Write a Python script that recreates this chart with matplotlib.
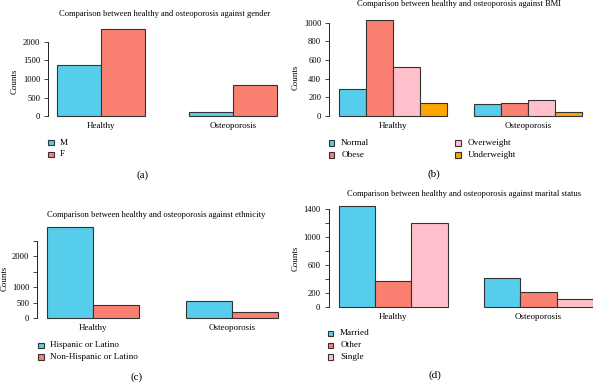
import matplotlib
matplotlib.use("Agg")
import matplotlib.pyplot as plt
from matplotlib.patches import Rectangle
import numpy as np

plt.rcParams['font.family'] = ['Liberation Serif', 'DejaVu Serif']

W, H = 593, 382
groups = ["Healthy", "Osteoporosis"]

gender_labels = ["M", "F"]
gender_vals = [[1378, 2351], [100, 838]]

bmi_labels = ["Normal", "Obese", "Overweight", "Underweight"]
bmi_vals = [[289, 1032, 528, 139], [132, 143, 168, 43]]

eth_labels = ["Hispanic or Latino", "Non-Hispanic or Latino"]
eth_vals = [[2950, 411], [561, 185]]

mar_labels = ["Married", "Other", "Single"]
mar_vals = [[1449, 370, 1204], [408, 211, 110]]

titles = ["Comparison between healthy and osteoporosis against gender",
          "Comparison between healthy and osteoporosis against BMI",
          "Comparison between healthy and osteoporosis against ethnicity",
          "Comparison between healthy and osteoporosis against marital status"]

C_CYAN = "#56CDEA"
C_SALMON = "#FA8072"
C_PINK = "#FFC0CB"
C_ORANGE = "#FFA500"
EDGE = "#333333"

fig = plt.figure(figsize=(W / 100, H / 100), dpi=100)
FS = 6.1
FS_T = 6.1


def px_axes(left, top, right, bottom):
    return fig.add_axes([left / W, 1 - bottom / H, (right - left) / W, (bottom - top) / H])


def panel(rect, vals, labels, colors, ticks, shown, title, title_xy, ylab_xy,
          leg, tag, tag_xy):
    ax = px_axes(*rect)
    n = len(labels)
    vals = np.array(vals, dtype=float)
    centers = np.arange(len(groups)) * (n + 1)
    offs = np.arange(n) - (n - 1) / 2
    for i in range(n):
        ax.bar(centers + offs[i], vals[:, i], width=1.0, color=colors[i],
               edgecolor=EDGE, linewidth=0.8, align='center')
    lo = centers[0] + offs[0] - 0.5
    hi = centers[-1] + offs[-1] + 0.5
    span = hi - lo
    ax.set_xlim(lo - 0.04 * span, hi + 0.04 * span)
    ymax = vals.max()
    ax.set_ylim(-0.04 * ymax, 1.04 * ymax)
    for s in ["top", "right", "bottom"]:
        ax.spines[s].set_visible(False)
    ax.spines["left"].set_bounds(ticks[0], ticks[-1])
    ax.spines["left"].set_linewidth(0.7)
    ax.spines["left"].set_color("#222222")
    ax.set_yticks(ticks)
    ax.set_yticklabels([str(t) if t in shown else "" for t in ticks], fontsize=FS)
    ax.tick_params(axis='y', length=3.2, width=0.6, pad=2.6, color="#222222")
    ax.set_xticks(centers)
    ax.set_xticklabels(groups, fontsize=FS + 0.4)
    ax.tick_params(axis='x', length=0, pad=1.8)
    ax.patch.set_alpha(0)
    fig.text(title_xy[0] / W, 1 - title_xy[1] / H, title, fontsize=FS_T,
             ha='center', va='center')
    fig.text(ylab_xy[0] / W, 1 - ylab_xy[1] / H, "Counts", fontsize=FS + 0.3,
             rotation=90, ha='center', va='center')
    # legend
    for i, lab in enumerate(labels):
        sx, sy = leg[i]
        sz = 5.6
        fig.add_artist(Rectangle(((sx - sz / 2) / W, 1 - (sy + sz / 2) / H),
                                 sz / W, sz / H, transform=fig.transFigure,
                                 facecolor=colors[i], edgecolor=EDGE, linewidth=0.8))
        fig.text((sx + 9.5) / W, 1 - sy / H, lab, fontsize=FS + 0.5,
                 ha='left', va='center')
    fig.text(tag_xy[0] / W, 1 - tag_xy[1] / H, tag, fontsize=8,
             ha='center', va='center')
    return ax


panel((48.2, 25.5, 285.8, 119.5), gender_vals, gender_labels, [C_CYAN, C_SALMON],
      [0, 500, 1000, 1500, 2000], [0, 500, 1000, 1500, 2000],
      titles[0], (164.5, 13.5), (14.3, 81),
      [(50.7, 142.5), (50.7, 154.3)], "(a)", (143, 175))

panel((329.3, 15.9, 591.7, 119.9), bmi_vals, bmi_labels,
      [C_CYAN, C_SALMON, C_PINK, C_ORANGE],
      [0, 200, 400, 600, 800, 1000], [0, 200, 400, 600, 800, 1000],
      titles[1], (459, 4.5), (295.5, 77),
      [(331.7, 142.7), (331.7, 154.7), (458, 142.7), (458, 154.7)], "(b)", (434, 174))

panel((37.4, 223.3, 287.5, 321.6), eth_vals, eth_labels, [C_CYAN, C_SALMON],
      [0, 500, 1000, 1500, 2000, 2500], [0, 500, 1000, 2000],
      titles[2], (156, 215), (4.5, 278),
      [(40.7, 345.3), (40.7, 356.7)], "(c)", (137, 377))

panel((328.5, 202, 603, 310.7), mar_vals, mar_labels, [C_CYAN, C_SALMON, C_PINK],
      [0, 200, 400, 600, 800, 1000, 1200, 1400], [0, 200, 600, 1000, 1400],
      titles[3], (464, 194.5), (295.5, 258),
      [(330.7, 333.3), (330.7, 345.3), (330.7, 357)], "(d)", (435, 375))

fig.savefig("out.png", dpi=100)
